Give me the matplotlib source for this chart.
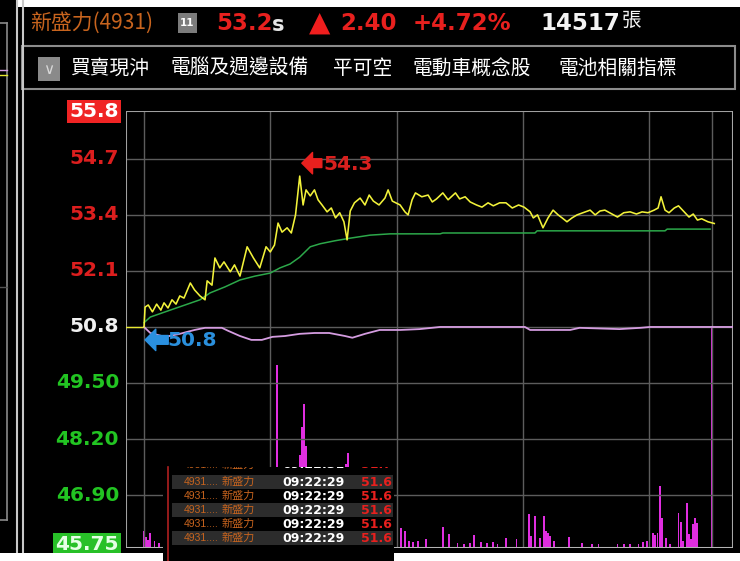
import matplotlib
matplotlib.use("Agg")
import matplotlib.pyplot as plt
import matplotlib.transforms as mtransforms
from matplotlib.patches import Rectangle
import numpy as np

# ---------------- data ----------------
prev_close = 50.8
limit_up = 55.8
limit_down = 45.75
price_ticks = [55.8, 54.7, 53.4, 52.1, 50.8, 49.5, 48.2, 46.9, 45.75]
price_tick_labels = ['55.8', '54.7', '53.4', '52.1', '50.8', '49.50', '48.20', '46.90', '45.75']
hour_marks = [0, 60, 120, 180, 240, 270]  # minutes after 09:00

# traded price (minutes after 09:00, price)
price_min = [0, 0.5, 2, 4, 6, 8, 9.5, 11.4, 13.3, 15.2, 17, 19, 22, 24, 26.6, 29, 30, 32.3, 33.7, 36,
             38, 41, 43, 45.6, 49, 52, 55, 58, 60, 62, 63.7, 65.6, 68, 70, 72, 74, 75.6, 77, 79, 81,
             82.7, 84.6, 87, 89, 91, 93, 95, 96.5, 98, 100, 102.7, 105, 107, 109, 111.7, 114.5, 116,
             118, 121.7, 124, 125.5, 127.4, 129, 132, 135, 137, 139, 142, 144.5, 148, 150, 152.6, 155,
             158, 160.6, 163.5, 166, 169, 172, 175, 178, 180.6, 183.5, 185, 187, 189.6, 192, 194.4,
             196.8, 198.7, 201, 203.4, 205.8, 208.6, 212, 214.4, 216.7, 219, 222.4, 225, 228, 231, 234,
             236.7, 239.5, 242.4, 244.3, 245.7, 247.6, 249.5, 252, 254, 256.7, 259, 261, 263, 265, 268,
             271]
price_val = [50.80, 51.26, 51.31, 51.15, 51.33, 51.19, 51.36, 51.24, 51.43, 51.33, 51.52, 51.47, 51.82,
             51.66, 51.52, 51.43, 51.87, 51.77, 52.40, 52.17, 52.31, 52.08, 52.24, 51.98, 52.66, 52.40,
             52.17, 52.66, 52.54, 52.70, 53.21, 53.00, 53.10, 52.98, 53.40, 54.30, 53.63, 53.98, 53.84,
             53.98, 53.75, 53.63, 53.47, 53.56, 53.33, 53.45, 53.24, 52.82, 53.49, 53.68, 53.79, 53.63,
             53.86, 53.72, 53.63, 53.79, 53.98, 53.72, 53.63, 53.47, 53.40, 53.75, 53.91, 53.82, 53.86,
             53.70, 53.77, 53.91, 53.75, 53.91, 53.77, 53.82, 53.70, 53.63, 53.58, 53.68, 53.61, 53.68,
             53.68, 53.56, 53.63, 53.58, 53.47, 53.33, 53.40, 53.10, 53.33, 53.51, 53.40, 53.33, 53.24,
             53.33, 53.40, 53.45, 53.51, 53.40, 53.49, 53.51, 53.42, 53.35, 53.45, 53.47, 53.42, 53.47,
             53.45, 53.51, 53.56, 53.82, 53.51, 53.45, 53.56, 53.61, 53.47, 53.35, 53.42, 53.28, 53.31,
             53.24, 53.20]

# average price
avg_min = [0, 3, 12.4, 19.5, 26.6, 31.4, 38.5, 45.6, 52.8, 60, 64.6, 69.4, 74, 79, 83.7, 90.8, 98,
           107.4, 117, 140.7, 142, 185.8, 186.8, 247.6, 248.6, 269]
avg_val = [50.90, 51.03, 51.19, 51.31, 51.43, 51.59, 51.73, 51.89, 51.98, 52.05, 52.17, 52.26, 52.42,
           52.66, 52.73, 52.80, 52.86, 52.93, 52.96, 52.96, 52.98, 52.98, 53.03, 53.03, 53.07, 53.07]

# purple indicator line (price-scale units)
ind_min = [0, 3, 10, 17, 24, 29, 37, 40, 45.6, 51, 56, 61, 67, 74, 81, 88, 95.5, 99, 105, 112, 121.7,
           131, 140.7, 150, 181, 183.5, 202.5, 207, 226, 236, 240.5, 280]
ind_val = [50.80, 50.66, 50.57, 50.64, 50.73, 50.78, 50.78, 50.71, 50.59, 50.50, 50.50, 50.57, 50.59,
           50.64, 50.66, 50.66, 50.59, 50.55, 50.64, 50.73, 50.73, 50.75, 50.80, 50.80, 50.80, 50.73,
           50.73, 50.78, 50.75, 50.78, 50.80, 50.80]

# volume per minute (lots)
vol_min = [0, 1, 2, 3, 5, 7, 63, 74, 75, 76, 77, 96, 97, 122, 124, 126, 128, 130, 134, 142, 145, 149,
           152, 155, 157, 160, 163, 166, 168, 172, 177, 183, 184, 186, 188, 190, 191, 192, 193, 195,
           202, 208, 213, 216, 225, 228, 231, 235, 237, 239, 242, 243, 244, 245, 246, 248, 250, 254,
           255, 256, 258, 259, 260, 261, 262, 263, 270]
vol_val = [117, 75, 55, 100, 48, 34, 1256, 640, 830, 990, 700, 580, 650, 137, 117, 48, 40, 48, 62, 144,
           96, 34, 30, 34, 89, 40, 35, 40, 30, 69, 62, 233, 82, 220, 69, 220, 117, 103, 82, 48, 76, 34,
           27, 27, 27, 25, 30, 27, 41, 48, 103, 90, 103, 426, 206, 69, 27, 240, 178, 48, 309, 96, 60,
           165, 206, 172, 1510]

# header texts
stock_name = '新盛力(4931)'
day_badge = '11'
last_price = '53.2'
change = '2.40'
change_pct = '+4.72%'
total_vol = '14517'
vol_unit = '張'
tags = ['買賣現沖', '電腦及週邊設備', '平可空', '電動車概念股', '電池相關指標']

# tick overlay rows
tick_code = '4931....'
tick_name = '新盛力'
tick_rows_time = ['09:22:31', '09:22:29', '09:22:29', '09:22:29', '09:22:29', '09:22:29']
tick_rows_price = ['51.7', '51.6', '51.6', '51.6', '51.6', '51.6']

# ---------------- drawing ----------------
W, H = 740, 561
fig = plt.figure(figsize=(W / 100, H / 100), dpi=100, facecolor='black')
CJK = ['Noto Sans CJK TC', 'DejaVu Sans']


def fx(x):
    return x / W


def fy(y):
    return 1 - y / H


def frect(x0, y0, x1, y1, **kw):
    r = Rectangle((fx(x0), fy(y1)), (x1 - x0) / W, (y1 - y0) / H, transform=fig.transFigure, **kw)
    fig.add_artist(r)
    return r


def fline(xs, ys, **kw):
    fig.add_artist(plt.Line2D([fx(v) for v in xs], [fy(v) for v in ys], transform=fig.transFigure, **kw))


# main axes
ax = fig.add_axes([fx(126), fy(548), (733 - 126) / W, (548 - 111) / H])
ax2 = ax.twinx()
ax.set_zorder(ax2.get_zorder() + 1)
ax.patch.set_visible(False)
ax2.set_facecolor('black')
ax.set_xlim(-8.56, 279.9)
ax.set_ylim(45.672, 55.81)
ax2.set_ylim(0, 3000)
for a in (ax, ax2):
    a.set_xticks([])
    a.set_yticks([])
    for s in a.spines.values():
        s.set_visible(False)

grid_c = '#5c5c5c'
for t in price_ticks[1:-1]:
    ax.axhline(t, color=grid_c, lw=1.0, zorder=0)
for m in hour_marks:
    ax.axvline(m, color=grid_c, lw=1.0, zorder=0)

# frame
ax.axhline(55.81, color='#a0a0a0', lw=1.5, zorder=0)
ax.axvline(-8.56, color='#a0a0a0', lw=1.5, zorder=0)
ax.axvline(279.9, color='#a8a8a8', lw=1.5, zorder=0)
ax.axhline(45.672, color='#b4b4b4', lw=2.2, zorder=5)

# volume bars
ax2.bar(vol_min, vol_val, width=0.9, color='#e02ee0', linewidth=0, align='center')

# lines
ax.plot([-8.56, 0], [prev_close, prev_close], color='#e8e830', lw=1.0)
ax.plot(ind_min, ind_val, color='#d49ce0', lw=1.3)
ax.plot(avg_min, avg_val, color='#2ca84a', lw=1.1)
ax.plot(price_min, price_val, color='#f2f23a', lw=1.15)

# annotations
imax = int(np.argmax(price_val))
pk_m, pk_v = price_min[imax], price_val[imax]
ax.annotate('', xy=(pk_m + 1, pk_v + 0.3), xytext=(pk_m + 10.5, pk_v + 0.3),
            arrowprops=dict(arrowstyle='simple,head_length=0.55,head_width=1.1,tail_width=0.45',
                            color='#e8201e', mutation_scale=14, shrinkA=0, shrinkB=0))
ax.text(pk_m + 11.5, pk_v + 0.27, f'{pk_v:.1f}', color='#d8201e', fontsize=14.5,
        fontweight='bold', ha='left', va='center')
ax.annotate('', xy=(0.5, prev_close - 0.3), xytext=(11.5, prev_close - 0.3),
            arrowprops=dict(arrowstyle='simple,head_length=0.55,head_width=1.1,tail_width=0.45',
                            color='#2a90e0', mutation_scale=14, shrinkA=0, shrinkB=0))
ax.text(11.0, prev_close - 0.32, f'{prev_close:.1f}', color='#2a8fdc', fontsize=14.5,
        fontweight='bold', ha='left', va='center')

# price axis labels
trans = mtransforms.blended_transform_factory(ax.transAxes, ax.transData)
for v, lab in zip(price_ticks, price_tick_labels):
    if v == limit_up:
        ax.text(-0.0115, v, lab, transform=trans, ha='right', va='center', color='white',
                fontsize=14.5, fontweight='bold', clip_on=False,
                bbox=dict(boxstyle='square,pad=0.12', fc='#f02424', ec='none'))
    elif v == limit_down:
        ax.text(-0.0115, v, lab, transform=trans, ha='right', va='center', color='#e6ffe6',
                fontsize=14.5, fontweight='bold', clip_on=False,
                bbox=dict(boxstyle='square,pad=0.12', fc='#28c028', ec='none'))
    elif v > prev_close:
        ax.text(-0.0115, v, lab, transform=trans, ha='right', va='center', color='#dc1e1e',
                fontsize=14.5, fontweight='bold', clip_on=False)
    elif v < prev_close:
        ax.text(-0.0115, v, lab, transform=trans, ha='right', va='center', color='#22c422',
                fontsize=14.5, fontweight='bold', clip_on=False)
    else:
        ax.text(-0.0115, v, lab, transform=trans, ha='right', va='center', color='#f0f0f0',
                fontsize=14.5, fontweight='bold', clip_on=False)

# left side panel lines
fline([17, 17], [0, 553], color='#c8c8c8', lw=1.5)
fline([23, 23], [0, 553], color='#c8c8c8', lw=1.5)
fline([7, 7], [23, 520], color='#8a8a8a', lw=1.2)
fline([0, 7], [23, 23], color='#8a8a8a', lw=1.2)
fline([0, 7], [520, 520], color='#8a8a8a', lw=1.2)
fline([0, 7], [287, 287], color='#555555', lw=1.0)
fline([0, 7], [70, 70], color='#d49ce0', lw=1.0)
fline([0, 7], [75, 75], color='#e8e830', lw=1.0)

# white strips (screenshot edges)
frect(18, 0, 740, 7, fc='white', ec='none')

# header
fig.text(fx(30), fy(23), stock_name, color='#c8641e', fontsize=15, family=CJK, ha='left', va='center')
frect(178, 13, 197, 33, fc='#7c7c7c', ec='none')
fig.text(fx(187.5), fy(23), day_badge, color='white', fontsize=7.5, fontweight='bold', ha='center', va='center')
fig.text(fx(216), fy(24), last_price, color='#e8201e', fontsize=16.5, fontweight='bold', ha='left', va='center')
fig.text(fx(272), fy(25), 's', color='#e6e6e6', fontsize=15, fontweight='bold', ha='left', va='center')
fig.text(fx(309), fy(23), '▲', color='#f01e1e', fontsize=20, ha='left', va='center')
fig.text(fx(340), fy(24), change, color='#e8201e', fontsize=16.5, fontweight='bold', ha='left', va='center')
fig.text(fx(413), fy(24), change_pct, color='#e8201e', fontsize=16.5, fontweight='bold', ha='left', va='center')
fig.text(fx(540), fy(24), total_vol, color='#f4f4f4', fontsize=16.5, fontweight='bold', ha='left', va='center')
fig.text(fx(622), fy(20), vol_unit, color='#f4f4f4', fontsize=14, family=CJK, ha='left', va='center')

# tag bar
frect(22, 46, 735, 89, fc='black', ec='#8c8c8c', lw=1.5)
frect(38, 57, 60, 81, fc='#8a8a8a', ec='none')
fig.text(fx(49), fy(70), '∨', color='#d8d8d8', fontsize=11, ha='center', va='center')
tag_x = [70, 170, 333, 413, 558]
for x, t in zip(tag_x, tags):
    fig.text(fx(x), fy(68), t, color='white', fontsize=14.2, family=CJK, ha='left', va='center')

# bottom white strips
frect(0, 553, 163, 561, fc='white', ec='none', zorder=10)
frect(394, 553, 740, 561, fc='white', ec='none', zorder=10)

# tick overlay
box = frect(163, 467, 394, 561, fc='black', ec='none', zorder=20)
row_bg = [None, '#2c2c2c', None, '#2c2c2c', None, '#2c2c2c']
row_y = [465, 482, 496, 510, 524, 538]
row_top = [466, 475, 489, 503, 517, 531]
for i, (ty, tt, tp) in enumerate(zip(row_y, tick_rows_time, tick_rows_price)):
    if row_bg[i]:
        frect(172, row_top[i], 393, row_top[i] + 14, fc=row_bg[i], ec='none', zorder=21)
    txts = [
        fig.text(fx(184), fy(ty), tick_code, color='#c8641e', fontsize=7.5, family='Liberation Sans',
                 ha='left', va='center', zorder=22),
        fig.text(fx(222), fy(ty), tick_name, color='#c8641e', fontsize=8, family=CJK, ha='left',
                 va='center', zorder=22),
        fig.text(fx(282), fy(ty), tt, color='white', fontsize=9, fontweight='bold', ha='left',
                 va='center', zorder=22),
        fig.text(fx(392), fy(ty), tp, color='#e8201e', fontsize=9, fontweight='bold', ha='right',
                 va='center', zorder=22),
    ]
    for t in txts:
        t.set_clip_path(box)
fline([168, 168], [467, 561], color='#b02020', lw=1.2, zorder=23)

fig.savefig('out.png', dpi=100, facecolor='black')
